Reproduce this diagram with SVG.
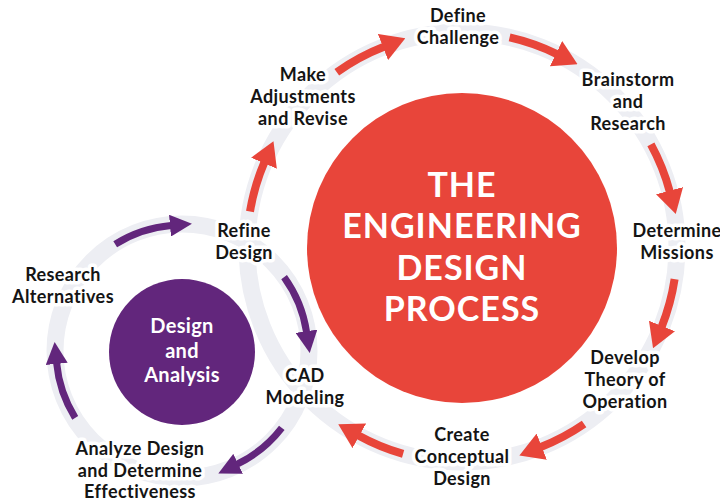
<svg xmlns="http://www.w3.org/2000/svg" width="720" height="503" viewBox="0 0 720 503">
  <style>
    .ring { fill: none; stroke: #EDEEF3; stroke-width: 17; }
    .red-arrow { fill: none; stroke: #E8453A; stroke-width: 8; }
    .purple-arrow { fill: none; stroke: #62267C; stroke-width: 7; }
    .label { font-family: Lato, "Liberation Sans", sans-serif; font-weight: 700; font-size: 18px; letter-spacing: 0.4px; fill: #141414; text-anchor: middle; stroke: #ffffff; stroke-width: 7; stroke-linejoin: round; paint-order: stroke; }
    .title { font-family: Lato, "Liberation Sans", sans-serif; font-weight: 700; font-size: 34px; fill: #ffffff; text-anchor: middle; letter-spacing: 1px; }
    .sub { font-family: Lato, "Liberation Sans", sans-serif; font-weight: 700; font-size: 20px; letter-spacing: 0.3px; fill: #ffffff; text-anchor: middle; }
  </style>
  <defs>
    <marker id="headRed" markerUnits="userSpaceOnUse" markerWidth="24" markerHeight="28" viewBox="0 0 24 28" refX="1" refY="14" orient="auto">
      <path d="M0,0 L24,14 L0,28 Z" fill="#E8453A"/>
    </marker>
    <marker id="headPurple" markerUnits="userSpaceOnUse" markerWidth="22" markerHeight="22" viewBox="0 0 22 22" refX="1" refY="11" orient="auto">
      <path d="M0,0 L22,11 L0,22 Z" fill="#62267C"/>
    </marker>
  </defs>

  <rect width="720" height="503" fill="#ffffff"/>

  <!-- track rings -->
  <g id="tracks">
    <circle class="ring" cx="462" cy="247" r="215"/>
    <circle class="ring" cx="182" cy="351" r="127"/>
  </g>

  <!-- central hubs -->
  <g id="engineering-design-process">
    <circle cx="462" cy="248" r="155" fill="#E8453A"/>
    <text class="title" x="462" y="197">THE</text>
    <text class="title" x="462" y="238">ENGINEERING</text>
    <text class="title" x="462" y="280">DESIGN</text>
    <text class="title" x="462" y="321">PROCESS</text>
  </g>
  <g id="design-and-analysis">
    <circle cx="182" cy="352" r="73" fill="#62267C"/>
    <text class="sub" x="182" y="333">Design</text>
    <text class="sub" x="182" y="358">and</text>
    <text class="sub" x="182" y="382">Analysis</text>
  </g>

  <!-- connectors -->
  <g id="connectors">
    <path class="red-arrow" marker-end="url(#headRed)" d="M336.8,72.2 A215,215 0 0 1 383.9,46.7"/>
    <path class="red-arrow" marker-end="url(#headRed)" d="M509.6,37.4 A215,215 0 0 1 556.9,54.1"/>
    <path class="red-arrow" marker-end="url(#headRed)" d="M650.9,144.4 A215,215 0 0 1 669.8,191.7"/>
    <path class="red-arrow" marker-end="url(#headRed)" d="M674.6,279.1 A215,215 0 0 1 661.6,326.9"/>
    <path class="red-arrow" marker-end="url(#headRed)" d="M584.1,424.0 A215,215 0 0 1 540.8,447.0"/>
    <path class="red-arrow" marker-end="url(#headRed)" d="M403.1,453.8 A215,215 0 0 1 358.4,435.4"/>
    <path class="red-arrow" marker-end="url(#headRed)" d="M250.0,211.5 A215,215 0 0 1 264.4,162.3"/>
    <path class="purple-arrow" marker-end="url(#headPurple)" d="M115.2,244.2 A126,126 0 0 1 171.0,225.5"/>
    <path class="purple-arrow" marker-end="url(#headPurple)" d="M284.1,277.1 A126,126 0 0 1 306.6,332.2"/>
    <path class="purple-arrow" marker-end="url(#headPurple)" d="M281.8,427.9 A126,126 0 0 1 237.2,464.2"/>
    <path class="purple-arrow" marker-end="url(#headPurple)" d="M75.2,417.8 A126,126 0 0 1 56.6,362.9"/>
  </g>

  <!-- step labels -->
  <g id="define-challenge">
    <text class="label" x="458" y="22">Define</text>
    <text class="label" x="458" y="44">Challenge</text>
  </g>
  <g id="brainstorm-and-research">
    <text class="label" x="628" y="86">Brainstorm</text>
    <text class="label" x="628" y="108">and</text>
    <text class="label" x="628" y="130">Research</text>
  </g>
  <g id="determine-missions">
    <text class="label" x="677" y="237">Determine</text>
    <text class="label" x="677" y="259">Missions</text>
  </g>
  <g id="develop-theory">
    <text class="label" x="625" y="364">Develop</text>
    <text class="label" x="625" y="386">Theory of</text>
    <text class="label" x="625" y="408">Operation</text>
  </g>
  <g id="create-conceptual-design">
    <text class="label" x="462" y="441">Create</text>
    <text class="label" x="462" y="463">Conceptual</text>
    <text class="label" x="462" y="485">Design</text>
  </g>
  <g id="cad-modeling">
    <text class="label" x="305" y="382">CAD</text>
    <text class="label" x="305" y="404">Modeling</text>
  </g>
  <g id="make-adjustments">
    <text class="label" x="303" y="81">Make</text>
    <text class="label" x="303" y="103">Adjustments</text>
    <text class="label" x="303" y="125">and Revise</text>
  </g>
  <g id="refine-design">
    <text class="label" x="244" y="237">Refine</text>
    <text class="label" x="244" y="259">Design</text>
  </g>
  <g id="research-alternatives">
    <text class="label" x="63" y="281">Research</text>
    <text class="label" x="63" y="303">Alternatives</text>
  </g>
  <g id="analyze-design">
    <text class="label" x="140" y="455">Analyze Design</text>
    <text class="label" x="140" y="477">and Determine</text>
    <text class="label" x="140" y="498">Effectiveness</text>
  </g>
</svg>
